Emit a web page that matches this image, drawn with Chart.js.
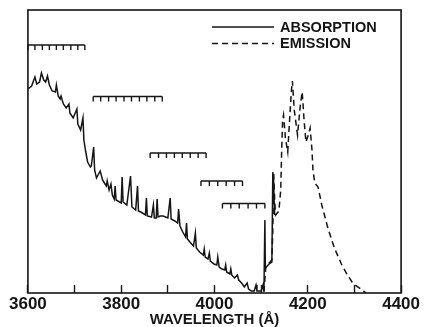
<!DOCTYPE html>
<html>
<head>
<meta charset="utf-8">
<title>Absorption and emission spectrum</title>
<script src="https://cdn.jsdelivr.net/npm/chart.js@4.4.1/dist/chart.umd.min.js"></script>
<style>
  body { margin: 0; background: #fff; }
  canvas { display: block; }
</style>
</head>
<body>
<canvas id="chart" width="429" height="327"></canvas>
<script>
// spectra (intensity in arbitrary units)
var absorptionWavelength = [3600, 3608, 3615, 3619, 3625, 3629, 3634, 3638, 3642, 3646, 3652, 3659, 3661, 3665, 3669, 3671, 3676, 3682, 3688, 3690,
    3697, 3705, 3707, 3713, 3718, 3720, 3724, 3728, 3734, 3736, 3741, 3743, 3747, 3755, 3760, 3764, 3768, 3770, 3774, 3778,
    3781, 3785, 3787, 3789, 3800, 3802, 3804, 3812, 3820, 3823, 3831, 3835, 3837, 3842, 3852, 3854, 3856, 3865, 3869, 3871,
    3875, 3877, 3879, 3884, 3890, 3900, 3905, 3907, 3915, 3921, 3923, 3926, 3932, 3938, 3940, 3942, 3949, 3955, 3959, 3961,
    3968, 3976, 3978, 3980, 3986, 3989, 3991, 3999, 4005, 4007, 4010, 4016, 4022, 4024, 4026, 4033, 4035, 4037, 4043, 4049,
    4052, 4058, 4064, 4070, 4073, 4079, 4085, 4089, 4091, 4100, 4104, 4106, 4108, 4109, 4117, 4123, 4125, 4127, 4129];
var absorptionValue = [204, 207, 216, 209, 211, 220, 213, 211, 217, 208, 202, 201, 208, 197, 194, 197, 189, 185, 189, 180,
    175, 184, 169, 163, 175, 153, 141, 131, 126, 127, 146, 123, 115, 122, 113, 110, 107, 112, 103, 109,
    98, 94, 107, 93, 90, 116, 91, 88, 117, 86, 83, 107, 82, 81, 78, 95, 77, 76, 88, 75,
    75, 94, 76, 77, 77, 75, 95, 74, 72, 70, 84, 67, 61, 56, 70, 54, 50, 47, 60, 45,
    41, 38, 44, 36, 34, 40, 32, 29, 28, 36, 26, 24, 23, 28, 21, 19, 24, 18, 15, 18,
    13, 10, 6, 10, 4, 2, 2, 8, 2, 2, 8, 2, 73, 25, 29, 31, 121, 103, 78];

var emissionWavelength = [4106, 4110, 4117, 4123, 4125, 4127, 4129, 4131, 4138, 4142, 4144, 4146, 4148, 4152, 4157, 4161, 4165, 4167, 4171, 4178,
    4184, 4188, 4192, 4196, 4201, 4205, 4209, 4211, 4215, 4222, 4230, 4243, 4257, 4272, 4285, 4295, 4304, 4314, 4325];
var emissionValue = [1, 26, 30, 33, 63, 119, 93, 78, 82, 103, 143, 173, 178, 155, 141, 173, 203, 212, 183, 158,
    188, 201, 173, 151, 158, 165, 143, 123, 110, 106, 88, 65, 45, 29, 18, 11, 7, 4, 0];

var seriesLabels = ['ABSORPTION', 'EMISSION'];

// vibronic progressions drawn as combs
var combLevels = [248, 196.5, 140, 112, 89.5];
var combWavelengths = [
    [3600, 3615, 3631, 3646, 3661, 3676, 3692, 3707, 3722],
    [3740, 3756, 3773, 3789, 3806, 3822, 3839, 3855, 3872, 3888],
    [3862, 3880, 3897, 3914, 3931, 3948, 3965, 3982],
    [3971, 3989, 4007, 4025, 4043, 4060],
    [4017, 4035, 4053, 4072, 4090, 4108]
];

var xTickLabels = [3600, 3800, 4000, 4200, 4400];

var ink = '#151515';
var fontFamily = '"Liberation Sans", Arial, sans-serif';

function toPoints(xs, ys) {
    var pts = [];
    for (var i = 0; i < xs.length; i++) pts.push({x: xs[i], y: ys[i]});
    return pts;
}

var framePlugin = {
    id: 'frame',
    afterDatasetsDraw: function(chart) {
        var ctx = chart.ctx, a = chart.chartArea;
        var xs = chart.scales.x, ys = chart.scales.y;
        ctx.save();
        ctx.strokeStyle = ink;
        ctx.lineWidth = 1.6;
        ctx.strokeRect(a.left, a.top, a.right - a.left, a.bottom - a.top);

        ctx.lineWidth = 1.4;
        for (var i = 0; i < combWavelengths.length; i++) {
            var w = combWavelengths[i];
            var py = ys.getPixelForValue(combLevels[i]);
            ctx.beginPath();
            ctx.moveTo(xs.getPixelForValue(w[0]), py);
            ctx.lineTo(xs.getPixelForValue(w[w.length - 1]), py);
            for (var j = 0; j < w.length; j++) {
                var px = xs.getPixelForValue(w[j]);
                ctx.moveTo(px, py);
                ctx.lineTo(px, py + 5);
            }
            ctx.stroke();
        }
        ctx.restore();
    }
};

var legendPlugin = {
    id: 'cornerLegend',
    afterDraw: function(chart) {
        var ctx = chart.ctx;
        var x0 = 212, x1 = 274, tx = 280, y0 = 27, dy = 16.5;
        ctx.save();
        ctx.font = 'bold 14.5px ' + fontFamily;
        ctx.textBaseline = 'middle';
        ctx.fillStyle = ink;
        chart.data.datasets.forEach(function(ds, i) {
            var y = y0 + i * dy;
            ctx.strokeStyle = ink;
            ctx.lineWidth = ds.borderWidth;
            ctx.setLineDash(ds.borderDash || []);
            ctx.beginPath();
            ctx.moveTo(x0, y);
            ctx.lineTo(x1, y);
            ctx.stroke();
            ctx.fillText(ds.label, tx, y + 0.5);
        });
        ctx.restore();
    }
};

window.onload = function() {
    var ctx = document.getElementById('chart').getContext('2d');
    new Chart(ctx, {
        type: 'line',
        data: {
            datasets: [{
                label: seriesLabels[0],
                data: toPoints(absorptionWavelength, absorptionValue),
                borderColor: ink,
                borderWidth: 1.5,
                pointRadius: 0,
                tension: 0,
                fill: false
            }, {
                label: seriesLabels[1],
                data: toPoints(emissionWavelength, emissionValue),
                borderColor: ink,
                borderWidth: 1.5,
                borderDash: [6, 4],
                pointRadius: 0,
                tension: 0,
                fill: false
            }]
        },
        options: {
            responsive: false,
            animation: false,
            devicePixelRatio: 1,
            layout: { padding: { left: 27, top: 10, right: 21, bottom: 0 } },
            plugins: { legend: { display: false }, tooltip: { enabled: false } },
            scales: {
                x: {
                    type: 'linear',
                    min: 3600,
                    max: 4400,
                    border: { display: false },
                    grid: { drawOnChartArea: false, tickLength: -8, tickWidth: 1.4, tickColor: ink },
                    ticks: {
                        stepSize: 100,
                        autoSkip: false,
                        maxRotation: 0,
                        padding: 9,
                        color: ink,
                        font: { family: fontFamily, size: 17, weight: 'bold' },
                        callback: function(v) { return xTickLabels.indexOf(v) >= 0 ? String(v) : ''; }
                    },
                    title: {
                        display: true,
                        text: 'WAVELENGTH (Å)',
                        color: ink,
                        padding: 0,
                        font: { family: fontFamily, size: 15, weight: 'bold', lineHeight: 1 }
                    },
                    afterFit: function(scale) { scale.height = 34; }
                },
                y: { display: false, min: 0, max: 283 }
            }
        },
        plugins: [framePlugin, legendPlugin]
    });
};
</script>
</body>
</html>
